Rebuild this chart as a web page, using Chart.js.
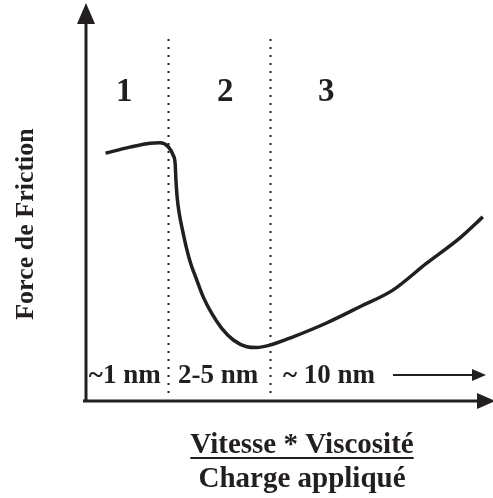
<!DOCTYPE html>
<html>
<head>
<meta charset="utf-8">
<script src="https://cdn.jsdelivr.net/npm/chart.js@4"></script>
<style>
  body { margin: 0; background: #fff; }
  .wrap { width: 493px; height: 498px; position: relative; }
</style>
</head>
<body>
<div class="wrap"><canvas id="myChart"></canvas></div>
<script>
// friction curve (arbitrary units, x = vitesse*viscosité/charge, y = force)
const curveX = [0.48, 1.08, 1.57, 1.82, 2.02, 2.14, 2.19, 2.21, 2.24, 2.29, 2.37, 2.46, 2.57, 2.72, 2.88, 3.09, 3.33, 3.62, 3.95, 4.19, 4.52, 5.09, 5.91, 6.73, 7.54, 8.37, 9.19, 9.75];
const curveY = [6.26, 6.41, 6.51, 6.52, 6.42, 6.21, 6.00, 5.58, 5.14, 4.74, 4.32, 3.90, 3.48, 3.06, 2.63, 2.21, 1.84, 1.54, 1.37, 1.35, 1.41, 1.62, 1.97, 2.38, 2.80, 3.48, 4.12, 4.65];

// regime boundaries and labels
const boundaries = [2.02, 4.52];
const regimeNames = ['1', '2', '3'];
const regimeX = [0.94, 3.42, 5.90];
const thickness = ['~1 nm', '2-5 nm', '~ 10 nm'];
const thicknessX = [0.07, 2.26, 4.84];

const yTitle = 'Force de Friction';
const xTitleTop = 'Vitesse * Viscosité';
const xTitleBottom = 'Charge appliqué';

const ink = '#231f20';
const serif = '"Liberation Serif", "Times New Roman", serif';

const points = curveX.map((x, i) => ({ x: x, y: curveY[i] }));

const decor = {
  id: 'decor',
  beforeDatasetsDraw(chart) {
    const c = chart.ctx;
    const xs = chart.scales.x;
    const area = chart.chartArea;
    // dotted regime separators
    c.save();
    c.strokeStyle = ink;
    c.lineWidth = 2;
    c.setLineDash([2, 6]);
    boundaries.forEach((b) => {
      const px = Math.round(xs.getPixelForValue(b)) + 0.5;
      c.beginPath();
      c.moveTo(px, area.top + 34);
      c.lineTo(px, area.bottom - 7);
      c.stroke();
    });
    c.restore();
  },
  afterDraw(chart) {
    const c = chart.ctx;
    const xs = chart.scales.x;
    const area = chart.chartArea;
    c.save();
    c.strokeStyle = ink;
    c.fillStyle = ink;
    c.lineWidth = 3;
    // y axis + arrow
    c.beginPath();
    c.moveTo(area.left, area.bottom + 1);
    c.lineTo(area.left, area.top + 16);
    c.stroke();
    c.beginPath();
    c.moveTo(area.left, area.top - 2);
    c.lineTo(area.left - 9, area.top + 19);
    c.lineTo(area.left + 9, area.top + 19);
    c.closePath();
    c.fill();
    // x axis + arrow
    c.beginPath();
    c.moveTo(area.left - 3, area.bottom);
    c.lineTo(area.right - 12, area.bottom);
    c.stroke();
    c.beginPath();
    c.moveTo(area.right + 2, area.bottom);
    c.lineTo(area.right - 16, area.bottom - 8);
    c.lineTo(area.right - 16, area.bottom + 8);
    c.closePath();
    c.fill();

    // regime numbers
    c.font = 'bold 33px ' + serif;
    c.textAlign = 'center';
    c.textBaseline = 'alphabetic';
    regimeNames.forEach((t, i) => {
      c.fillText(t, xs.getPixelForValue(regimeX[i]), 101);
    });

    // film thickness labels
    c.font = 'bold 27px ' + serif;
    c.textAlign = 'left';
    thickness.forEach((t, i) => {
      c.fillText(t, xs.getPixelForValue(thicknessX[i]), 383);
    });
    // small arrow after ~10 nm
    c.lineWidth = 2;
    c.beginPath();
    c.moveTo(393, 375);
    c.lineTo(475, 375);
    c.stroke();
    c.beginPath();
    c.moveTo(486, 375);
    c.lineTo(472, 369);
    c.lineTo(472, 381);
    c.closePath();
    c.fill();

    // x title (fraction)
    c.font = 'bold 29px ' + serif;
    c.textAlign = 'center';
    const cx = 302;
    c.fillText(xTitleTop, cx, 453);
    const w = c.measureText(xTitleTop).width;
    c.lineWidth = 2;
    c.beginPath();
    c.moveTo(cx - w / 2, 458);
    c.lineTo(cx + w / 2, 458);
    c.stroke();
    c.fillText(xTitleBottom, cx, 487);

    // y title
    c.translate(33, 224);
    c.rotate(-Math.PI / 2);
    c.font = 'bold 26px ' + serif;
    c.fillText(yTitle, 0, 0);
    c.restore();
  }
};

new Chart(document.getElementById('myChart'), {
  type: 'line',
  data: {
    datasets: [{
      data: points,
      borderColor: ink,
      borderWidth: 3.5,
      pointRadius: 0,
      cubicInterpolationMode: 'monotone',
      fill: false
    }]
  },
  plugins: [decor],
  options: {
    responsive: true,
    maintainAspectRatio: false,
    animation: false,
    layout: { padding: { left: 86, right: 0, top: 5, bottom: 97 } },
    plugins: { legend: { display: false }, tooltip: { enabled: false } },
    scales: {
      x: { type: 'linear', min: 0, max: 10, display: false },
      y: { type: 'linear', min: 0, max: 10, display: false }
    }
  }
});
</script>
</body>
</html>
